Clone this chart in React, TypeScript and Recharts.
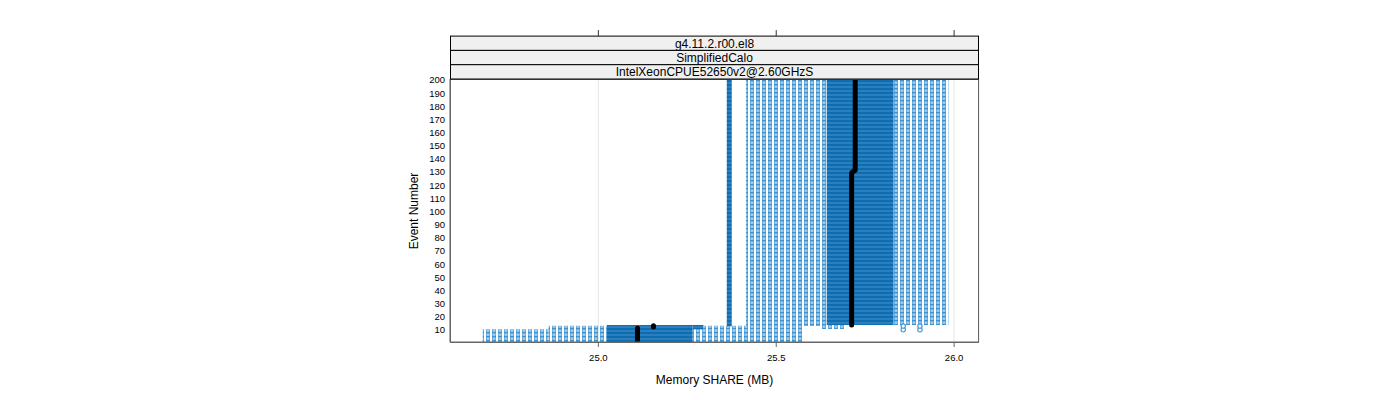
import React from "react";
import {
  ComposedChart,
  XAxis,
  YAxis,
  CartesianGrid,
  ReferenceArea,
  Line,
  Scatter,
} from "recharts";

// ---- data ----
const stripLabels = ["g4.11.2.r00.el8", "SimplifiedCalo", "IntelXeonCPUE52650v2@2.60GHzS"];
const xTicks = [25.0, 25.5, 26.0];
const yTicks = [10, 20, 30, 40, 50, 60, 70, 80, 90, 100, 110, 120, 130, 140, 150, 160, 170, 180, 190, 200];
const xDomain = [24.583, 26.07];
const yDomain = [0.88, 200.76];

// sparse (light) point columns: memory range x event range
const lightX1 = [24.675, 24.86, 25.265, 25.295, 25.415, 25.624, 25.83];
const lightX2 = [24.86, 25.024, 25.575, 25.575, 25.642, 25.694, 25.984];
const lightY1 = [0.88, 0.88, 0.88, 10.5, 13.0, 10.8, 13.8];
const lightY2 = [10.5, 13.3, 10.5, 13.3, 200.76, 13.8, 200.76];

// dense (overlapping) point regions
const denseX1 = [25.024, 25.265, 25.361, 25.642];
const denseX2 = [25.265, 25.295, 25.375, 25.83];
const denseY1 = [0.88, 10.5, 12.8, 13.8];
const denseY2 = [13.8, 13.8, 200.76, 200.76];

// median line segments
const medLowX = [25.11, 25.11];
const medLowY = [0.88, 11.3];
const medMidX = [25.155, 25.155];
const medMidY = [12.2, 13.2];
const medHighX = [25.712, 25.712, 25.722, 25.722];
const medHighY = [13.8, 129.5, 131.5, 200.76];

// isolated points
const outX = [25.857, 25.857, 25.904, 25.904];
const outY = [10.2, 13.0, 10.2, 13.0];

// ---- layout ----
const W = 1400;
const H = 400;
const PL = 450;
const PR = 979;
const PT = 79;
const PB = 342;
const STRIP_H = 14.3;
const FONT = "'Liberation Sans', Arial, Helvetica, sans-serif";

const toPts = (xs: number[], ys: number[]) => xs.map((x, i) => ({ x, y: ys[i] }));
const xPix = (v: number) => PL + ((v - xDomain[0]) / (xDomain[1] - xDomain[0])) * (PR - PL);

const OpenCircle = (props: any) => {
  const { cx, cy } = props;
  if (cx == null || cy == null) return null;
  return <circle cx={cx} cy={cy} r={2.2} fill="#ffffff" stroke="#3d95d4" strokeWidth={1.1} />;
};

export default function App() {
  return (
    <div style={{ position: "absolute", left: 0, top: 0, width: W, height: H, background: "#fff" }}>
      <svg width={0} height={0} style={{ position: "absolute" }}>
        <defs>
          <pattern id="lightPat" patternUnits="userSpaceOnUse" width={6} height={4}>
            <rect x={0} y={0} width={4} height={4} fill="#6aaee0" />
            <rect x={0} y={0} width={4} height={1.3} fill="#3e92d0" />
            <rect x={1.2} y={1.6} width={1.6} height={2.1} fill="#b3d7f1" />
          </pattern>
          <pattern id="densePat" patternUnits="userSpaceOnUse" width={6} height={4}>
            <rect x={0} y={0} width={6} height={4} fill="#0f6dae" />
            <rect x={0} y={2.4} width={6} height={1.2} fill="#3a8bcb" />
          </pattern>
        </defs>
      </svg>
      <ComposedChart
        width={W}
        height={H}
        margin={{ top: PT, right: W - PR, bottom: H - PB - 30, left: PL - 60 }}
        style={{ position: "absolute", left: 0, top: 0 }}
      >
        <CartesianGrid horizontal={false} stroke="#e6e6e6" strokeDasharray="" />
        <XAxis
          type="number"
          dataKey="x"
          domain={xDomain}
          ticks={xTicks}
          allowDataOverflow
          height={30}
          tickSize={5}
          tickMargin={7}
          tickFormatter={(v: number) => v.toFixed(1)}
          stroke="#666"
          tick={{ fontSize: 9.5, fill: "#000", fontFamily: FONT }}
        />
        <YAxis
          type="number"
          domain={yDomain}
          ticks={yTicks}
          allowDataOverflow
          width={60}
          tickSize={0}
          tickLine={false}
          tickMargin={5}
          interval={0}
          stroke="#666"
          tick={{ fontSize: 9.5, fill: "#000", fontFamily: FONT }}
        />
        {lightX1.map((x1, i) => (
          <ReferenceArea
            key={"l" + i}
            x1={x1}
            x2={lightX2[i]}
            y1={lightY1[i]}
            y2={lightY2[i]}
            fill="url(#lightPat)"
            fillOpacity={1}
            stroke="none"
            ifOverflow="hidden"
          />
        ))}
        {denseX1.map((x1, i) => (
          <ReferenceArea
            key={"d" + i}
            x1={x1}
            x2={denseX2[i]}
            y1={denseY1[i]}
            y2={denseY2[i]}
            fill="url(#densePat)"
            fillOpacity={1}
            stroke="none"
            ifOverflow="hidden"
          />
        ))}
        <Scatter data={toPts(outX, outY)} dataKey="y" shape={OpenCircle} isAnimationActive={false} />
        <Line data={toPts(medLowX, medLowY)} dataKey="y" stroke="#000" strokeWidth={5} strokeLinecap="round" dot={false} isAnimationActive={false} />
        <Line data={toPts(medMidX, medMidY)} dataKey="y" stroke="#000" strokeWidth={5} strokeLinecap="round" dot={false} isAnimationActive={false} />
        <Line data={toPts(medHighX, medHighY)} dataKey="y" stroke="#000" strokeWidth={5} strokeLinecap="round" strokeLinejoin="round" dot={false} isAnimationActive={false} />
      </ComposedChart>
      <svg width={W} height={H} style={{ position: "absolute", left: 0, top: 0, pointerEvents: "none" }}>
        <rect x={PL + 0.5} y={PT + 0.5} width={PR - PL - 1} height={PB - PT} fill="none" stroke="#666" strokeWidth={1} />
        {stripLabels.map((s, i) => {
          const y0 = PT - STRIP_H * (stripLabels.length - i);
          return (
            <g key={s}>
              <rect x={PL + 0.5} y={y0} width={PR - PL - 1} height={STRIP_H} fill="#f0f0f0" stroke="#000" strokeWidth={1} />
              <text x={(PL + PR) / 2} y={y0 + STRIP_H / 2 + 4.3} textAnchor="middle" fontSize={12} fontFamily={FONT} fill="#000">
                {s}
              </text>
            </g>
          );
        })}
        {xTicks.map((t) => {
          const yTop = PT - STRIP_H * stripLabels.length;
          return <line key={t} x1={xPix(t)} x2={xPix(t)} y1={yTop - 6} y2={yTop} stroke="#333" strokeWidth={1} />;
        })}
        <text x={(PL + PR) / 2} y={384} textAnchor="middle" fontSize={12} fontFamily={FONT} fill="#000">
          Memory SHARE (MB)
        </text>
        <text x={418} y={211} textAnchor="middle" fontSize={12} fontFamily={FONT} fill="#000" transform="rotate(-90 418 211)">
          Event Number
        </text>
      </svg>
    </div>
  );
}
